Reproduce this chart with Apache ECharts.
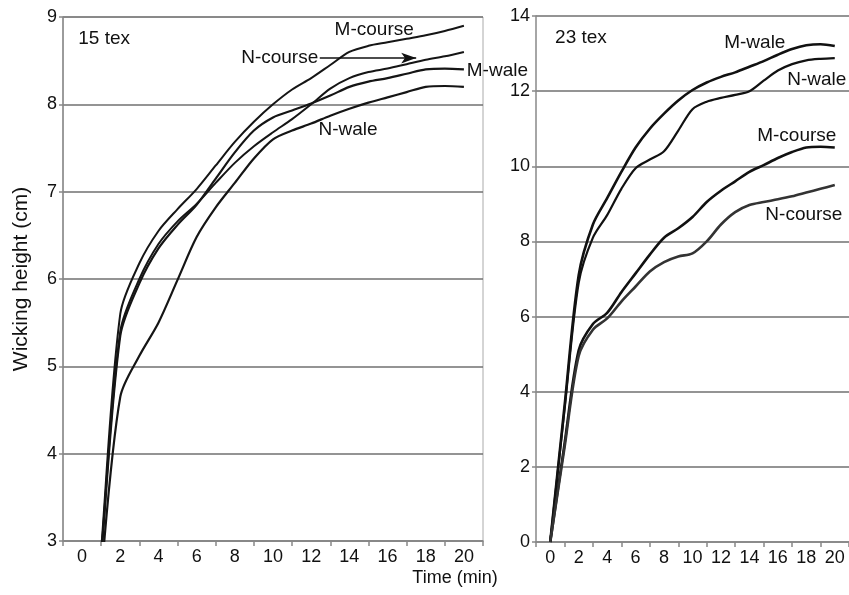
<!DOCTYPE html>
<html><head><meta charset="utf-8">
<script src="https://cdn.jsdelivr.net/npm/echarts@6.0.0/dist/echarts.min.js"></script>
<style>html,body{margin:0;padding:0;background:#fff}#c{width:849px;height:595px}</style>
</head><body><div id="c"></div>
<script>
// time in minutes
const time = [0,1,2,3,4,5,6,7,8,9,10,11,12,13,14,15,16,17,18,19,20];
// 15 tex panel
const mCourse15 = [0,2.9,5.6,6.18,6.55,6.8,7.03,7.3,7.57,7.8,8.0,8.17,8.3,8.45,8.6,8.67,8.71,8.75,8.79,8.84,8.9];
const nCourse15 = [0,2.85,5.4,6.0,6.4,6.66,6.86,7.1,7.33,7.52,7.68,7.83,8.0,8.18,8.3,8.37,8.41,8.46,8.51,8.55,8.6];
const mWale15   = [0,2.8,5.35,5.95,6.35,6.62,6.85,7.15,7.45,7.7,7.85,7.93,8.01,8.1,8.2,8.26,8.3,8.35,8.4,8.41,8.4];
const nWale15   = [0,2.6,4.65,5.12,5.5,5.99,6.48,6.82,7.1,7.38,7.6,7.7,7.78,7.87,7.95,8.02,8.08,8.14,8.2,8.21,8.2];
// 23 tex panel
const mWale23   = [0,3.6,7.1,8.45,9.15,9.85,10.5,11.0,11.4,11.75,12.03,12.23,12.38,12.5,12.65,12.8,12.97,13.12,13.22,13.25,13.2];
const nWale23   = [0,3.5,6.9,8.1,8.7,9.4,9.95,10.18,10.4,10.95,11.52,11.72,11.82,11.9,12.0,12.28,12.55,12.72,12.82,12.86,12.88];
const mCourse23 = [0,2.6,5.1,5.8,6.1,6.65,7.15,7.65,8.1,8.35,8.65,9.05,9.35,9.6,9.85,10.03,10.22,10.38,10.5,10.52,10.5];
const nCourse23 = [0,2.5,4.95,5.65,5.95,6.4,6.8,7.2,7.45,7.6,7.68,8.0,8.45,8.78,8.97,9.05,9.12,9.2,9.3,9.4,9.5];
// axis ticks
const xLabelValues = [0,2,4,6,8,10,12,14,16,18,20];
const xTickValues = [-1,1,3,5,7,9,11,13,15,17,19,21];
// annotations: [panel, text, t, v, align]
const notes = [
  [0,'15 tex',-0.2,8.75,'left'],
  [0,'M-course',15.3,8.85,'center'],
  [0,'N-course',12.37,8.53,'right'],
  [0,'N-wale',13.93,7.71,'center'],
  [0,'M-wale',20.15,8.39,'left'],
  [1,'23 tex',0.34,13.41,'left'],
  [1,'M-wale',14.38,13.28,'center'],
  [1,'N-wale',18.74,12.3,'center'],
  [1,'M-course',17.33,10.8,'center'],
  [1,'N-course',17.83,8.72,'center']
];
const arrowFrom = [12.45,8.53], arrowTo = [17.5,8.53];

const FONT = '"Liberation Sans", Arial, sans-serif';
const pair = (ys) => time.map((t,i)=>[t, ys[i]]);
const chart = echarts.init(document.getElementById('c'), null, {renderer:'canvas'});

function xAxisCfg(gi){
  return {
    type:'value', gridIndex:gi, min:-1, max:21,
    axisLine:{show:true, onZero:false, lineStyle:{color:'#888', width:1.5}},
    axisTick:{show:true, customValues:xTickValues, length:5, lineStyle:{color:'#888', width:1.5}},
    axisLabel:{customValues:xLabelValues, color:'#111', fontSize:18, fontFamily:FONT, margin:7, hideOverlap:false},
    splitLine:{show:false}
  };
}
function yAxisCfg(gi, min, max, interval){
  return {
    type:'value', gridIndex:gi, min, max, interval,
    axisLine:{show:true, onZero:false, lineStyle:{color:'#888', width:1.5}},
    axisTick:{show:true, length:4, lineStyle:{color:'#888', width:1.5}},
    axisLabel:{color:'#111', fontSize:18, fontFamily:FONT, margin:6},
    splitLine:{show:true, lineStyle:{color:'#707070', width:1.5}}
  };
}
function line(name, gi, ys, color, width){
  return {
    name, type:'line', xAxisIndex:gi, yAxisIndex:gi, data:pair(ys),
    showSymbol:false, symbol:'none', smooth:0.3, clip:true,
    lineStyle:{color, width}, z:3
  };
}

const series = [
  line('M-course 15',0,mCourse15,'#151515',2),
  Object.assign(line('N-course 15',0,nCourse15,'#151515',2),{
    markLine:{silent:true, symbol:['none','arrow'], symbolSize:[8,15],
      label:{show:false}, lineStyle:{color:'#111', width:1.5, type:'solid'},
      data:[[{coord:arrowFrom},{coord:arrowTo}]]}
  }),
  line('M-wale 15',0,mWale15,'#151515',2.2),
  line('N-wale 15',0,nWale15,'#151515',2.2),
  line('M-wale 23',1,mWale23,'#111',2.6),
  line('N-wale 23',1,nWale23,'#111',2.2),
  line('M-course 23',1,mCourse23,'#111',2.6),
  line('N-course 23',1,nCourse23,'#333',2.6)
];

chart.setOption({
  animation:false,
  backgroundColor:'#fff',
  grid:[
    {left:63, top:17, width:420, height:524, show:true, borderColor:'#aaa', borderWidth:1, backgroundColor:'transparent'},
    {left:536, top:16, width:313, height:526}
  ],
  xAxis:[xAxisCfg(0), xAxisCfg(1)],
  yAxis:[
    Object.assign(yAxisCfg(0,3,9,1),{name:'Wicking height (cm)', nameLocation:'middle', nameGap:31,
      nameTextStyle:{color:'#111', fontSize:21, fontFamily:FONT}}),
    yAxisCfg(1,0,14,2)
  ],
  series
});

const graphics = notes.map(([gi,text,t,v,align])=>{
  const p = chart.convertToPixel({gridIndex:gi},[t,v]);
  return {type:'text', x:p[0], y:p[1], z:10,
    style:{text, fill:'#111', font:'19px '+FONT, textAlign:align, textVerticalAlign:'middle'}};
});
graphics.push({type:'text', x:455, y:578, z:10,
  style:{text:'Time (min)', fill:'#111', font:'18px '+FONT, textAlign:'center', textVerticalAlign:'middle'}});
chart.setOption({graphic:graphics});
</script>
</body></html>
